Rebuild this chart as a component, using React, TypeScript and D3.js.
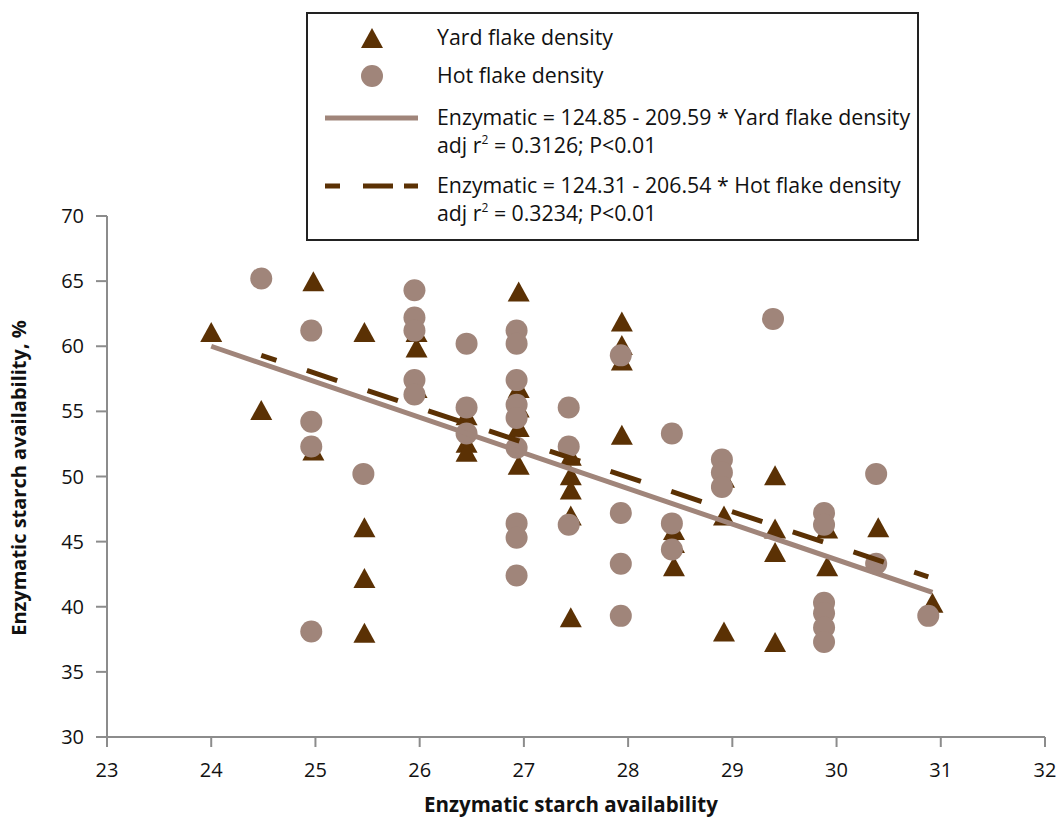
import React from 'react';
import * as d3 from 'd3';

const xTicks = [23, 24, 25, 26, 27, 28, 29, 30, 31, 32];
const yTicks = [30, 35, 40, 45, 50, 55, 60, 65, 70];

const yardX = [24.0, 24.48, 24.98, 24.98, 25.47, 25.47, 25.47, 25.47, 25.97, 25.97, 25.97,
  26.45, 26.45, 26.45, 26.95, 26.95, 26.95, 26.95, 26.95, 27.45, 27.45, 27.45, 27.45, 27.45,
  27.94, 27.94, 27.94, 27.94, 28.44, 28.44, 28.44, 28.92, 28.92, 28.92, 29.41, 29.41, 29.41, 29.41,
  29.91, 29.91, 30.4, 30.92];
const yardY = [61.1, 55.1, 65.0, 52.0, 61.1, 46.1, 42.2, 38.0, 61.1, 59.9, 56.8,
  54.7, 52.6, 51.9, 64.2, 56.8, 55.3, 53.8, 50.9, 51.6, 50.1, 49.0, 47.0, 39.2,
  61.9, 60.1, 58.9, 53.2, 45.9, 44.9, 43.1, 49.9, 47.0, 38.1, 50.1, 46.0, 44.2, 37.3,
  46.0, 43.1, 46.1, 40.3];

const hotX = [24.48, 24.96, 24.96, 24.96, 24.96, 25.46, 25.95, 25.95, 25.95, 25.95, 25.95,
  26.45, 26.45, 26.45, 26.93, 26.93, 26.93, 26.93, 26.93, 26.93, 26.93, 26.93, 26.93,
  27.43, 27.43, 27.43, 27.93, 27.93, 27.93, 27.93, 28.42, 28.42, 28.42, 28.9, 28.9, 28.9,
  29.39, 29.88, 29.88, 29.88, 29.88, 29.88, 29.88, 30.38, 30.38, 30.88];
const hotY = [65.2, 61.2, 54.2, 52.3, 38.1, 50.2, 64.3, 62.2, 61.2, 57.4, 56.3,
  60.2, 55.3, 53.3, 61.2, 60.2, 57.4, 55.5, 54.5, 52.2, 46.4, 45.3, 42.4,
  55.3, 52.3, 46.3, 59.3, 47.2, 43.3, 39.3, 53.3, 46.4, 44.4, 51.3, 50.3, 49.2,
  62.1, 47.2, 46.3, 40.3, 39.5, 38.4, 37.3, 50.2, 43.3, 39.3];

const yardLineX = [24.0, 30.92];
const yardLineY = [60.0, 41.1];
const hotLineX = [24.48, 30.88];
const hotLineY = [59.3, 42.3];

const legendLabels = [
  ['Yard flake density'],
  ['Hot flake density'],
  ['Enzymatic = 124.85 - 209.59 * Yard flake density', 'adj r|2| = 0.3126; P<0.01'],
  ['Enzymatic = 124.31 - 206.54 * Hot flake density', 'adj r|2| = 0.3234; P<0.01'],
];

const TRI = '#5B3104';
const CIR = '#A0857A';
const AXIS = '#8C8C8C';
const FONT = "'Open Sans', 'Noto Sans', sans-serif";

function tri(cx: number, cy: number, w = 22, h = 20) {
  return `M${cx},${cy - h / 2}L${cx + w / 2},${cy + h / 2}L${cx - w / 2},${cy + h / 2}Z`;
}

function renderLabel(s: string) {
  const parts = s.split('|');
  if (parts.length === 1) return s;
  return (
    <>
      {parts[0]}
      <tspan fontSize="12" dy="-9">{parts[1]}</tspan>
      <tspan dy="9">{parts[2]}</tspan>
    </>
  );
}

export default function App() {
  const W = 1058, H = 817;
  const x = d3.scaleLinear().domain([23, 32]).range([107, 1045]);
  const y = d3.scaleLinear().domain([30, 70]).range([737, 216]);
  const line = d3.line<[number, number]>().x(d => x(d[0])).y(d => y(d[1]));
  const yardLine = line(yardLineX.map((v, i) => [v, yardLineY[i]]));
  const hotLine = line(hotLineX.map((v, i) => [v, hotLineY[i]]));

  const legendRowsY = [[38], [76], [118, 146], [186, 214]];

  return (
    <svg width={W} height={H} style={{ position: 'absolute', left: 0, top: 0, background: '#fff' }}
      fontFamily={FONT}>
      <rect x={0} y={0} width={W} height={H} fill="#fff" />
      {/* axes */}
      <line x1={x(23)} x2={x(32)} y1={y(30)} y2={y(30)} stroke={AXIS} strokeWidth={2} />
      <line x1={x(23)} x2={x(23)} y1={y(30)} y2={y(70)} stroke={AXIS} strokeWidth={2} />
      {xTicks.map(t => (
        <g key={'xt' + t}>
          <line x1={x(t)} x2={x(t)} y1={y(30)} y2={y(30) + 10} stroke={AXIS} strokeWidth={2} />
          <text x={x(t)} y={y(30) + 40} textAnchor="middle" fontSize="20" fill="#111">{t}</text>
        </g>
      ))}
      {yTicks.map(t => (
        <g key={'yt' + t}>
          <line x1={x(23) - 11} x2={x(23)} y1={y(t)} y2={y(t)} stroke={AXIS} strokeWidth={2} />
          <text x={x(23) - 23} y={y(t)} dy="0.35em" textAnchor="end" fontSize="20" fill="#111">{t}</text>
        </g>
      ))}
      <text x={571} y={812} textAnchor="middle" fontWeight="bold" fontSize="20.5" fill="#111">
        Enzymatic starch availability
      </text>
      <text transform="translate(26,478) rotate(-90)" textAnchor="middle" fontWeight="bold" fontSize="20" fill="#111">
        Enzymatic starch availability, %
      </text>

      {/* markers */}
      {yardX.map((v, i) => (
        <path key={'y' + i} d={tri(x(v), y(yardY[i]))} fill={TRI} />
      ))}
      {hotX.map((v, i) => (
        <circle key={'h' + i} cx={x(v)} cy={y(hotY[i])} r={11} fill={CIR} />
      ))}

      {/* trend lines */}
      <path d={yardLine || ''} stroke={CIR} strokeWidth={5} fill="none" />
      <path d={hotLine || ''} stroke={TRI} strokeWidth={5} fill="none" strokeDasharray="32 32" strokeDashoffset={16} />

      {/* legend */}
      <rect x={307} y={13} width={611} height={227} fill="#fff" stroke="#222" strokeWidth={2} />
      <path d={tri(372, 38)} fill={TRI} />
      <circle cx={372} cy={76} r={11} fill={CIR} />
      <line x1={325} x2={418} y1={118} y2={118} stroke={CIR} strokeWidth={5} />
      <line x1={325} x2={418} y1={186} y2={186} stroke={TRI} strokeWidth={5} strokeDasharray="15 23 30 11 14" />
      {legendLabels.map((rows, i) => rows.map((s, j) => (
        <text key={'l' + i + '_' + j} x={437} y={legendRowsY[i][j]} dy="0.35em" fontSize="21.3" fill="#111">
          {renderLabel(s)}
        </text>
      )))}
    </svg>
  );
}
